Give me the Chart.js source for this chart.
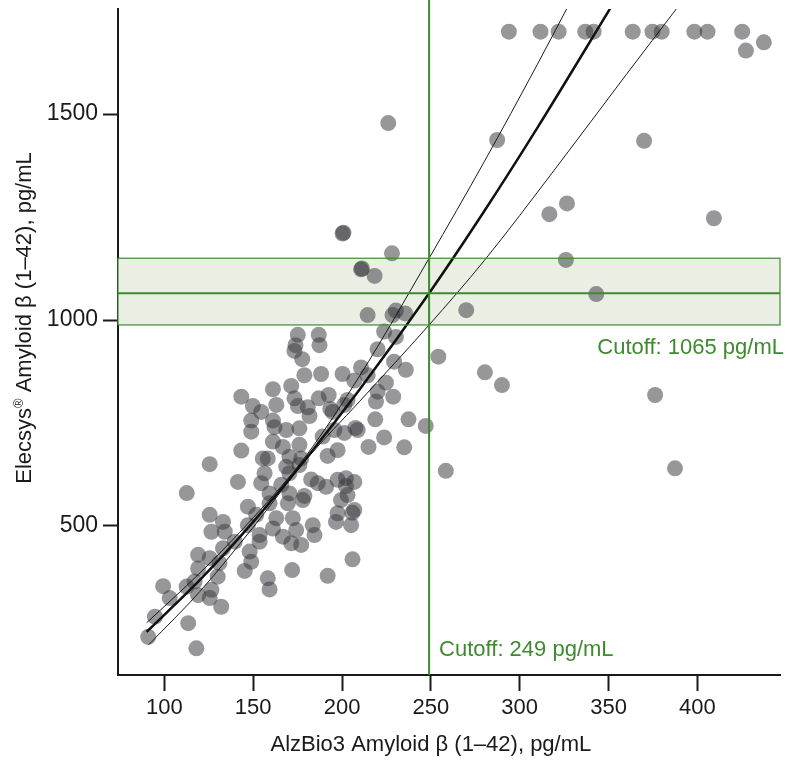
<!DOCTYPE html>
<html>
<head>
<meta charset="utf-8">
<script src="https://cdn.jsdelivr.net/npm/chart.js@4"></script>
<style>
  body { margin: 0; background: #fff; }
</style>
</head>
<body>
<canvas id="methodChart" width="788" height="762"></canvas>
<script>
// Sample pairs (AlzBio3 on x, Elecsys on y)
const alzbio = [
  125.5, 112.6, 125.5, 133, 126.5, 134, 119, 125.5, 133, 119, 131, 130, 99.3, 103, 112.5, 117, 126.5, 119, 125.5, 132, 113.4, 94.7, 90.9, 118,
  175.1, 186.9, 173.8, 187.3, 173.2, 177.6, 178.8, 188.2, 161.1, 171.4, 143.3, 149.8, 154.5, 163, 173.2, 175.1, 180.7, 186.9, 192.5, 194.7, 193.4,
  148.9, 148.9, 161.1, 162, 168.6, 176, 181.7, 189.1, 195.7, 161.1, 166.7, 176, 143.3, 155.4, 158.2, 170.4, 177, 191.9, 197.5,
  156.4, 168.6, 176, 170.4, 186.3, 182.6, 141.4, 154.5, 165.8, 197.5, 159.2, 170.4, 178.8, 191,
  223.7, 230.3, 220, 210.7, 214.4, 229.3, 235.9, 200.3, 206.9, 224.7, 220, 228.8, 203.1, 219.1, 201.3, 218.7, 208.8, 207.5, 201.3, 223.7, 214.9,
  202.2, 206.9, 202.2, 203.1, 254.2, 247.1, 237.4, 235, 258.4,
  159.2, 169.5, 177.9, 199.4, 147, 153.6, 153.6, 163, 172.3, 161.1, 174.2, 166.7, 171.4, 177, 183.5, 184.5, 197.5, 196.6, 205.1, 206.9, 205.8,
  148, 148.9, 145.2, 139.6, 205.9, 171.9, 191.9, 158.2, 159.2, 147, 151.7,
  200.3, 200.8, 228.1, 210.7, 211.2, 218.3, 214.4, 228.4, 230.3, 235.5, 226,
  269.9, 280.4, 290, 376.2, 387.4, 326, 343.1, 316.7, 326.6, 409.3, 287.3, 370,
  293.9, 311.7, 321.9, 336.9, 341.6, 363.6, 374.7, 379.9, 398.3, 405.7, 425.2, 427.3, 437.4
];
const elecsys = [
  650, 580, 527, 510, 486, 486, 430, 422, 446, 397, 410, 377, 354, 325, 353, 365, 345, 332, 325, 304, 264, 280, 231, 203,
  964, 964, 939, 939, 925, 905, 866, 869, 832, 840, 814, 791, 777, 794, 810, 791, 788, 810, 818, 777, 784,
  756, 729, 756, 740, 733, 737, 767, 717, 733, 705, 692, 697, 683, 664, 664, 668, 664, 670, 684,
  628, 644, 648, 628, 604, 613, 607, 604, 600, 612, 579, 579, 573, 595,
  972, 959, 929, 885, 866, 899, 879, 869, 853, 848, 826, 814, 806, 802, 794, 759, 733, 738, 726, 715, 692,
  616, 607, 597, 575, 911, 743, 759, 691, 634,
  555, 555, 563, 563, 502, 478, 462, 519, 519, 494, 490, 474, 458, 454, 502, 478, 531, 510, 502, 539, 532,
  438, 413, 391, 462, 419, 393, 379, 373, 346, 547, 527,
  1210, 1212, 1162, 1123, 1125, 1107, 1012, 1012, 1023, 1016, 1478,
  1024, 873, 842, 818, 640, 1146, 1063, 1257, 1283, 1247, 1437, 1435,
  1700, 1700, 1700, 1700, 1700, 1700, 1700, 1700, 1700, 1700, 1700, 1654, 1674
];

// Regression line and its confidence limits
const fitX = [90, 120, 150, 180, 210, 249, 280, 310, 352];
const fitY = [243, 369, 510, 665, 832, 1065, 1264, 1467, 1764];
const upperX = [90, 120, 150, 180, 210, 249, 280, 310, 327];
const upperY = [265, 386, 520, 672, 865, 1150, 1384, 1621, 1760];
const lowerX = [91, 120, 150, 180, 210, 249, 280, 320, 360, 389];
const lowerY = [211, 341, 497, 662, 803, 988, 1144, 1367, 1596, 1760];

// Cutoffs
const cutoffX = 249;
const cutoffY = 1065;
const cutoffYLow = 988;
const cutoffYHigh = 1150;

const xTicks = [100, 150, 200, 250, 300, 350, 400];
const yTicks = [500, 1000, 1500];

const green = '#3d8b2e';
const ink = '#1a1a1a';
const font = '"Liberation Sans", Arial, Helvetica, sans-serif';

const toPoints = (xs, ys) => xs.map((v, i) => ({ x: v, y: ys[i] }));

const cutoffPlugin = {
  id: 'cutoffs',
  beforeDatasetsDraw(chart) {
    const { ctx, chartArea: a, scales: { y } } = chart;
    const top = y.getPixelForValue(cutoffYHigh);
    const bot = y.getPixelForValue(cutoffYLow);
    ctx.save();
    ctx.fillStyle = '#e9efe3';
    ctx.fillRect(a.left, top, a.right - a.left, bot - top);
    ctx.restore();
  },
  afterDatasetsDraw(chart) {
    const { ctx, chartArea: a, scales: { x, y } } = chart;
    const top = y.getPixelForValue(cutoffYHigh);
    const bot = y.getPixelForValue(cutoffYLow);
    const mid = y.getPixelForValue(cutoffY);
    const vx = x.getPixelForValue(cutoffX);
    ctx.save();
    ctx.strokeStyle = green;
    ctx.lineWidth = 1.2;
    ctx.strokeRect(a.left, top, a.right - a.left, bot - top);
    ctx.lineWidth = 2;
    ctx.beginPath();
    ctx.moveTo(a.left, mid);
    ctx.lineTo(a.right, mid);
    ctx.moveTo(vx, a.bottom);
    ctx.lineTo(vx, 0);
    ctx.stroke();

    ctx.fillStyle = green;
    ctx.font = '22px ' + font;
    ctx.textBaseline = 'alphabetic';
    ctx.textAlign = 'right';
    ctx.fillText('Cutoff: 1065 pg/mL', a.right + 4, bot + 29);
    ctx.textAlign = 'left';
    ctx.fillText('Cutoff: 249 pg/mL', vx + 10, a.bottom - 19);
    ctx.restore();
  },
  afterDraw(chart) {
    const { ctx } = chart;
    ctx.save();
    ctx.fillStyle = ink;
    ctx.textBaseline = 'middle';
    ctx.textAlign = 'center';
    ctx.font = '22px ' + font;
    ctx.fillText('AlzBio3 Amyloid β (1–42), pg/mL', chart.scales.x.getPixelForValue(250), 745);

    // y title with superscript ®
    const big = '22px ' + font, small = '13px ' + font;
    const p1 = 'Elecsys', p2 = '®', p3 = ' Amyloid β (1–42), pg/mL';
    ctx.font = big; const w1 = ctx.measureText(p1).width, w3 = ctx.measureText(p3).width;
    ctx.font = small; const w2 = ctx.measureText(p2).width;
    const total = w1 + w2 + w3;
    ctx.translate(25, 318);
    ctx.rotate(-Math.PI / 2);
    ctx.textAlign = 'left';
    let cx = -total / 2;
    ctx.font = big; ctx.fillText(p1, cx, 0); cx += w1;
    ctx.font = small; ctx.fillText(p2, cx, -6); cx += w2;
    ctx.font = big; ctx.fillText(p3, cx, 0);
    ctx.restore();
  }
};

new Chart(document.getElementById('methodChart'), {
  type: 'scatter',
  data: {
    datasets: [
      { label: 'Upper limit', data: toPoints(upperX, upperY), showLine: true, borderColor: ink, borderWidth: 1, pointRadius: 0, cubicInterpolationMode: 'monotone' },
      { label: 'Fit', data: toPoints(fitX, fitY), showLine: true, borderColor: '#111', borderWidth: 2.5, pointRadius: 0, cubicInterpolationMode: 'monotone' },
      { label: 'Lower limit', data: toPoints(lowerX, lowerY), showLine: true, borderColor: ink, borderWidth: 1, pointRadius: 0, cubicInterpolationMode: 'monotone' },
      { label: 'Samples', data: toPoints(alzbio, elecsys), backgroundColor: 'rgba(55,55,62,0.52)', borderWidth: 0, pointRadius: 8, pointHoverRadius: 8 }
    ]
  },
  options: {
    responsive: false,
    animation: false,
    events: [],
    layout: { padding: { top: 9, right: 6, left: 0, bottom: 0 } },
    plugins: { legend: { display: false }, tooltip: { enabled: false } },
    scales: {
      x: {
        type: 'linear', min: 73.9, max: 446.5,
        afterBuildTicks: s => { s.ticks = xTicks.map(v => ({ value: v })); },
        afterFit: s => { s.height = 87; s.paddingLeft = 0; s.paddingRight = 0; },
        grid: { drawOnChartArea: false, drawTicks: true, tickLength: 16, tickWidth: 2, tickColor: ink },
        border: { color: ink, width: 2 },
        ticks: { color: ink, font: { family: font, size: 22 }, padding: 4, maxRotation: 0, callback: v => String(v) }
      },
      y: {
        type: 'linear', min: 138.3, max: 1755,
        afterBuildTicks: s => { s.ticks = yTicks.map(v => ({ value: v })); },
        afterFit: s => { s.width = 118; s.paddingTop = 0; s.paddingBottom = 0; },
        grid: { drawOnChartArea: false, drawTicks: true, tickLength: 15, tickWidth: 2, tickColor: ink },
        border: { color: ink, width: 2 },
        ticks: { color: ink, font: { family: font, size: 23 }, padding: 5, callback: v => String(v) }
      }
    }
  },
  plugins: [cutoffPlugin]
});
</script>
</body>
</html>
